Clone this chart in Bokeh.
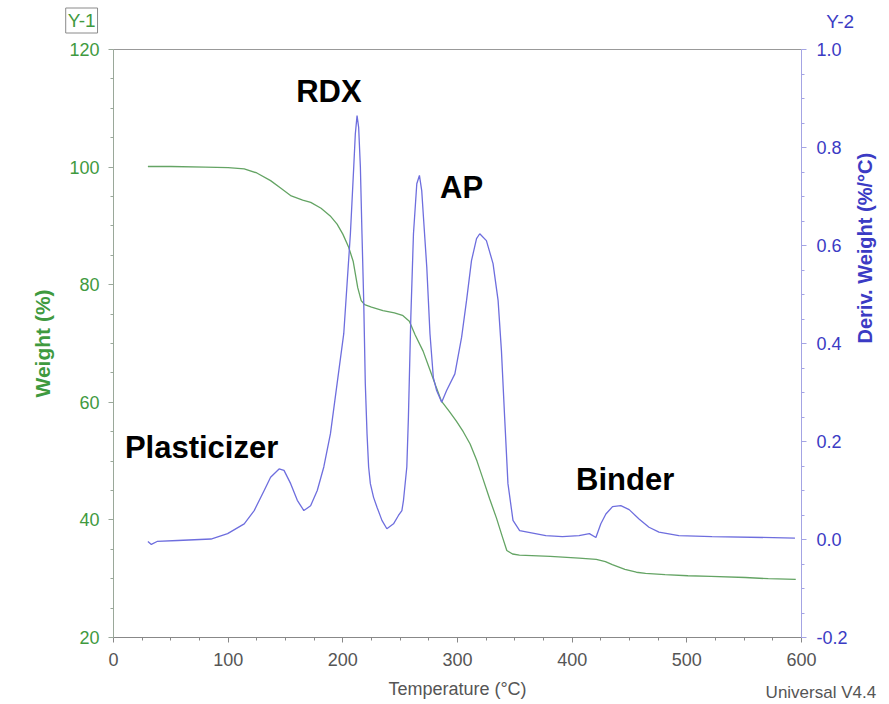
import math
from bokeh.plotting import figure
from bokeh.models import (Range1d, LinearAxis, SingleIntervalTicker, FixedTicker,
                          PrintfTickFormatter, Label, ColumnDataSource)
from bokeh.core.properties import value
from bokeh.embed import file_html
from bokeh.resources import INLINE

# ---- data ----
weight_temp = [30, 50, 80, 100, 114, 125, 137, 146, 155, 165, 172, 181, 189, 195, 200,
               205, 209, 213, 216, 219, 225, 235, 245, 252, 258, 263, 270, 276, 281, 286,
               293, 299, 305, 311, 317, 322, 328, 334, 339, 343, 348, 354, 381, 406, 421,
               429, 435, 446, 456, 464, 481, 501, 521, 551, 571, 595]
weight_pct = [100.1, 100.1, 100.0, 99.9, 99.7, 99.0, 97.7, 96.4, 95.1, 94.4, 94.0, 93.0,
              91.7, 90.3, 88.6, 86.4, 84.0, 79.5, 77.3, 76.6, 76.2, 75.6, 75.2, 74.8, 73.8,
              71.5, 68.7, 65.5, 62.8, 60.2, 58.4, 56.8, 55.0, 52.9, 50.0, 47.1, 43.6, 40.3,
              37.2, 34.8, 34.2, 34.0, 33.8, 33.5, 33.3, 32.9, 32.4, 31.6, 31.1, 30.9, 30.7,
              30.5, 30.4, 30.2, 30.0, 29.9]

deriv_temp = [30, 33, 38, 56, 85, 99.5, 114, 122.7, 131.4, 137, 144.4, 148.7, 154.5, 160.3,
              166, 171.9, 177.7, 183.4, 189.2, 195, 200.8, 203.7, 206.6, 209.5, 210.9,
              212.4, 213.8, 215.3, 216.7, 218.2, 219.6, 221.1, 222.5, 224, 226.8, 229.8,
              234.1, 238.4, 244.2, 248.5, 251.5, 252.9, 255.8, 257.2, 259.3, 261.6, 264.5,
              266.8, 268.8, 270.3, 273.2, 276, 278.9, 281.8, 286.2, 290.5, 297.7, 303.6,
              307.9, 312.2, 316.6, 319.4, 325.2, 331, 335.4, 338.3, 341.1, 344, 348.4,
              354.2, 377, 391.5, 406, 415, 420.7, 425, 429.4, 435.2, 442.4, 449.7, 458.3,
              467, 475.7, 493, 522, 594.3]
deriv_val = [-0.004, -0.010, -0.004, -0.002, 0.001, 0.012, 0.032, 0.059, 0.100, 0.127,
             0.144, 0.141, 0.114, 0.080, 0.059, 0.069, 0.100, 0.148, 0.216, 0.318, 0.420,
             0.522, 0.624, 0.760, 0.828, 0.865, 0.841, 0.760, 0.624, 0.488, 0.318, 0.216,
             0.148, 0.114, 0.086, 0.066, 0.039, 0.022, 0.032, 0.049, 0.059, 0.080, 0.148,
             0.250, 0.454, 0.624, 0.726, 0.743, 0.712, 0.658, 0.556, 0.420, 0.331, 0.304,
             0.280, 0.304, 0.338, 0.413, 0.488, 0.569, 0.614, 0.624, 0.610, 0.563, 0.488,
             0.386, 0.250, 0.114, 0.039, 0.018, 0.008, 0.006, 0.008, 0.012, 0.004, 0.032,
             0.052, 0.067, 0.069, 0.061, 0.042, 0.025, 0.015, 0.008, 0.006, 0.003]

peak_names = ["RDX", "AP", "Plasticizer", "Binder"]
peak_x = [187.9, 303.6, 76.8, 446.2]
peak_y = [112.86, 96.45, 52.23, 46.87]

font = "Liberation Sans"
GREEN_LINE = "#64a464"
BLUE_LINE = "#6e6ede"
GREEN_TXT = "#3f9a3f"
BLUE_TXT = "#3b3bc4"
GREY_TXT = "#555555"

p = figure(width=889, height=704, output_backend="svg", toolbar_location=None,
           x_range=Range1d(0, 600), y_range=Range1d(20, 120),
           min_border_left=112, min_border_right=86, min_border_top=49,
           min_border_bottom=67, background_fill_color="white",
           border_fill_color="white", outline_line_color=None)
p.xgrid.visible = False
p.ygrid.visible = False
p.extra_y_ranges = {"d": Range1d(-0.2, 1.0)}

# bottom axis
xa = p.xaxis[0]
xa.ticker = SingleIntervalTicker(interval=100, num_minor_ticks=4)
xa.axis_label = "Temperature (°C)"
xa.axis_label_text_font = font
xa.axis_label_text_font_style = "normal"
xa.axis_label_text_font_size = "18px"
xa.axis_label_text_color = GREY_TXT
xa.axis_label_standoff = 10
xa.major_label_text_font = font
xa.major_label_text_font_size = "18px"
xa.major_label_text_color = GREY_TXT
xa.major_label_standoff = 10
xa.axis_line_color = "#888888"
xa.major_tick_line_color = "#888888"
xa.minor_tick_line_color = "#888888"
xa.major_tick_out = 5
xa.major_tick_in = 0
xa.minor_tick_out = 3
xa.minor_tick_in = 0

# left axis
ya = p.yaxis[0]
ya.ticker = SingleIntervalTicker(interval=20, num_minor_ticks=4)
ya.axis_label = "Weight (%)"
ya.axis_label_text_font = font
ya.axis_label_text_font_style = "bold"
ya.axis_label_text_font_size = "21px"
ya.axis_label_text_color = GREEN_TXT
ya.axis_label_standoff = 12
ya.major_label_text_font = font
ya.major_label_text_font_size = "18px"
ya.major_label_text_color = GREEN_TXT
ya.major_label_standoff = 9
ya.axis_line_color = "#9aa89a"
ya.major_tick_line_color = "#9aa89a"
ya.minor_tick_line_color = "#9aa89a"
ya.major_tick_out = 5
ya.major_tick_in = 0
ya.minor_tick_out = 3
ya.minor_tick_in = 0

# right axis
ra = LinearAxis(y_range_name="d",
                ticker=SingleIntervalTicker(interval=0.2, num_minor_ticks=4),
                formatter=PrintfTickFormatter(format="%.1f"))
ra.axis_label = "Deriv. Weight (%/°C)"
ra.axis_label_orientation = math.pi / 2
ra.axis_label_text_font = font
ra.axis_label_text_font_style = "bold"
ra.axis_label_text_font_size = "20px"
ra.axis_label_text_color = BLUE_TXT
ra.axis_label_standoff = 14
ra.major_label_text_font = font
ra.major_label_text_font_size = "18px"
ra.major_label_text_color = BLUE_TXT
ra.major_label_standoff = 10
ra.axis_line_color = "#a4a4e4"
ra.major_tick_line_color = "#a4a4e4"
ra.minor_tick_line_color = "#a4a4e4"
ra.major_tick_out = 5
ra.major_tick_in = 0
ra.minor_tick_out = 3
ra.minor_tick_in = 0
p.add_layout(ra, "right")

# top border line
ta = LinearAxis(ticker=FixedTicker(ticks=[]))
ta.axis_line_color = "#999999"
ta.major_tick_line_color = None
ta.minor_tick_line_color = None
ta.major_tick_out = 0
ta.major_tick_in = 0
ta.minor_tick_out = 0
ta.minor_tick_in = 0
ta.major_label_standoff = 0
ta.major_label_text_font_size = "0px"
p.add_layout(ta, "above")

# curves
p.line(weight_temp, weight_pct, line_color=GREEN_LINE, line_width=1.3)
p.line(deriv_temp, deriv_val, line_color=BLUE_LINE, line_width=1.3, y_range_name="d")

# peak labels
src = ColumnDataSource(dict(x=peak_x, y=peak_y, t=peak_names))
p.text(x="x", y="y", text="t", source=src, text_font=value(font),
       text_font_style="bold", text_font_size="31px", text_color="black",
       text_align="center", text_baseline="middle")

# texts outside the frame: placed in side panels so that they are not clipped
p.add_layout(Label(x=-27.8, y=124.93, text="Y-1", text_font=font, text_font_size="19px",
                   text_color=GREEN_TXT, text_align="center", text_baseline="middle",
                   border_line_color="#8a8a8a", border_line_width=1,
                   background_fill_color="white", padding=2), "above")
p.add_layout(Label(x=633.8, y=124.76, text="Y-2", text_font=font, text_font_size="19px",
                   text_color=BLUE_TXT, text_align="center", text_baseline="middle"),
             "left")
p.add_layout(Label(x=568.7, y=10.65, text="Universal V4.4", text_font=font,
                   text_font_size="17px", text_color=GREY_TXT, text_align="left",
                   text_baseline="middle"), "above")

open("out.html", "w").write(file_html(p, INLINE))
